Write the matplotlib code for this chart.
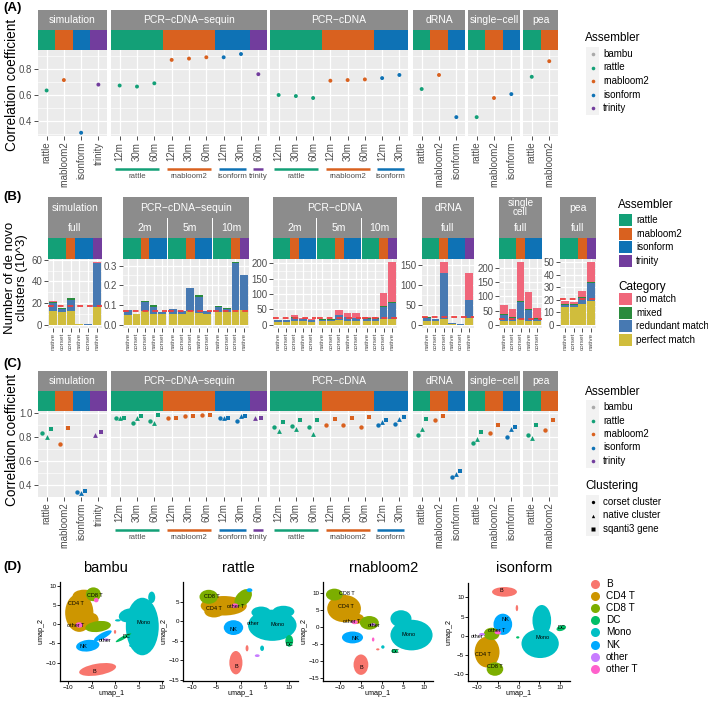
import matplotlib
matplotlib.use('Agg')
import matplotlib.pyplot as plt
from matplotlib.patches import Rectangle, Ellipse
import numpy as np

plt.rcParams['font.family'] = ['Liberation Sans', 'DejaVu Sans']

W, H = 708, 702
fig = plt.figure(figsize=(W / 100, H / 100), dpi=100)
nan = np.nan

# ---------------- colours ----------------
ASSEMBLERS = ['bambu', 'rattle', 'rnabloom2', 'isonform', 'trinity']
ASM_COLORS = ['#A9A9A9', '#13A077', '#D9611F', '#0E72B5', '#723D9D']
ASM_COL = dict(zip(ASSEMBLERS, ASM_COLORS))
CATEGORIES = ['no match', 'mixed', 'redundant match', 'perfect match']
CAT_COLORS = ['#F0677B', '#2A8B3D', '#4779B2', '#D0BD3C']
CELLTYPES = ['B', 'CD4 T', 'CD8 T', 'DC', 'Mono', 'NK', 'other', 'other T']
CELL_COLORS = ['#F8766D', '#CD9600', '#7CAE00', '#00BE67', '#00BFC4', '#00A9FF', '#C77CFF', '#FF61CC']
CELL_COL = dict(zip(CELLTYPES, CELL_COLORS))

# ---------------- panel A data ----------------
A_facets = ['simulation', 'PCR\u2212cDNA\u2212sequin', 'PCR\u2212cDNA', 'dRNA', 'single\u2212cell', 'pea']
A_sim_asm = ['rattle', 'rnabloom2', 'isonform', 'trinity']
A_sim_val = [0.635, 0.715, 0.31, 0.68]
A_seq_asm = ['rattle'] * 3 + ['rnabloom2'] * 3 + ['isonform'] * 2 + ['trinity']
A_seq_lab = ['12m', '30m', '60m', '12m', '30m', '60m', '12m', '30m', '60m']
A_seq_val = [0.673, 0.665, 0.69, 0.87, 0.88, 0.89, 0.89, 0.915, 0.76]
A_pcr_asm = ['rattle'] * 3 + ['rnabloom2'] * 3 + ['isonform'] * 2
A_pcr_lab = ['12m', '30m', '60m', '12m', '30m', '60m', '12m', '30m']
A_pcr_val = [0.60, 0.592, 0.577, 0.71, 0.715, 0.72, 0.73, 0.754]
A_drna_asm = ['rattle', 'rnabloom2', 'isonform']
A_drna_val = [0.646, 0.754, 0.43]
A_sc_asm = ['rattle', 'rnabloom2', 'isonform']
A_sc_val = [0.43, 0.577, 0.607]
A_pea_asm = ['rattle', 'rnabloom2']
A_pea_val = [0.74, 0.86]

# ---------------- panel C data (corset cluster / native cluster / sqanti3 gene) ----------------
C_sim_corset = [0.835, 0.745, 0.345, nan]
C_sim_native = [0.80, nan, 0.33, 0.815]
C_sim_sqanti = [0.865, 0.875, 0.35, 0.84]
C_seq_corset = [0.961, 0.92, 0.936, 0.961, 0.975, 0.98, 0.961, 0.933, nan]
C_seq_native = [0.961, 0.96, 0.92, nan, nan, nan, 0.961, 0.975, 0.961]
C_seq_sqanti = [0.961, 0.978, 0.98, 0.961, 0.978, 0.982, 0.961, 0.978, 0.958]
C_pcr_corset = [0.886, 0.892, 0.886, 0.897, 0.897, 0.883, 0.90, 0.906]
C_pcr_native = [0.853, 0.867, 0.822, nan, nan, nan, 0.928, 0.947]
C_pcr_sqanti = [0.925, 0.942, 0.94, 0.947, 0.961, 0.964, 0.942, 0.964]
C_drna_corset = [0.817, 0.942, 0.47]
C_drna_native = [0.87, nan, 0.492]
C_drna_sqanti = [0.953, 0.975, 0.514]
C_sc_corset = [0.753, 0.831, 0.797]
C_sc_native = [0.786, nan, 0.867]
C_sc_sqanti = [0.842, 0.903, 0.881]
C_pea_corset = [0.817, 0.856]
C_pea_native = [0.789, nan]
C_pea_sqanti = [0.90, 0.942]

# ---------------- panel B data ----------------
B_sim_asm = ['rattle', 'rattle', 'rnabloom2', 'isonform', 'isonform', 'trinity']
B_sim_meth = ['native', 'corset', 'corset', 'native', 'corset', 'native']
B_sim_perfect = [13, 12, 13.2, 0.4, 0.3, 16]
B_sim_redundant = [7, 2.5, 10, 0.2, 0.1, 40.5]
B_sim_mixed = [1, 1, 1.3, 0, 0, 0.6]
B_sim_nomatch = [0.5, 0.2, 0.3, 0, 0, 0.6]
B_sim_ref = 17.8

B_seq2_asm = ['rattle', 'rattle', 'rnabloom2', 'isonform', 'isonform']
B_seq2_meth = ['native', 'corset', 'corset', 'native', 'corset']
B_seq2_perfect = [0.052, 0.055, 0.07, 0.056, 0.056]
B_seq2_redundant = [0.021, 0.001, 0.048, 0.036, 0.009]
B_seq2_mixed = [0.002, 0.0, 0.002, 0.007, 0.001]
B_seq2_nomatch = [0, 0, 0, 0, 0]
B_seq5_asm = ['rattle', 'rattle', 'rnabloom2', 'isonform', 'isonform']
B_seq5_meth = ['native', 'corset', 'corset', 'native', 'corset']
B_seq5_perfect = [0.056, 0.056, 0.071, 0.06, 0.056]
B_seq5_redundant = [0.023, 0.014, 0.113, 0.083, 0.013]
B_seq5_mixed = [0.003, 0.001, 0.002, 0.007, 0.001]
B_seq5_nomatch = [0, 0, 0, 0, 0]
B_seq10_asm = ['rattle', 'rattle', 'rnabloom2', 'trinity']
B_seq10_meth = ['native', 'corset', 'corset', 'native']
B_seq10_perfect = [0.066, 0.066, 0.073, 0.075]
B_seq10_redundant = [0.022, 0.014, 0.242, 0.175]
B_seq10_mixed = [0.006, 0.003, 0.002, 0.001]
B_seq10_nomatch = [0, 0, 0, 0]
B_seq_ref = 0.071

B_pcr2_asm = ['rattle', 'rattle', 'rnabloom2', 'isonform', 'isonform']
B_pcr2_meth = ['native', 'corset', 'corset', 'native', 'corset']
B_pcr2_perfect = [10, 10, 13, 11, 10]
B_pcr2_redundant = [5, 4.5, 10, 7, 6]
B_pcr2_mixed = [0.5, 0.5, 1, 1, 0.5]
B_pcr2_nomatch = [1, 0.5, 9, 3, 3.5]
B_pcr5_asm = ['rattle', 'rattle', 'rnabloom2', 'isonform', 'isonform']
B_pcr5_meth = ['native', 'corset', 'corset', 'native', 'corset']
B_pcr5_perfect = [11, 11, 15, 13, 12]
B_pcr5_redundant = [6, 6, 17, 11, 10]
B_pcr5_mixed = [0.5, 0.5, 1, 1, 1]
B_pcr5_nomatch = [2.5, 2.5, 14, 14, 14]
B_pcr10_asm = ['rattle', 'rattle', 'rnabloom2', 'trinity']
B_pcr10_meth = ['native', 'corset', 'corset', 'native']
B_pcr10_perfect = [12, 12, 20, 20]
B_pcr10_redundant = [8, 8, 38, 52]
B_pcr10_mixed = [1, 1, 2, 2]
B_pcr10_nomatch = [3, 3, 43, 130]
B_pcr_ref = 22

B_drna_asm = ['rattle', 'rattle', 'rnabloom2', 'isonform', 'isonform', 'trinity']
B_drna_meth = ['native', 'corset', 'corset', 'native', 'corset', 'native']
B_drna_perfect = [10, 9, 15, 1, 0.5, 17]
B_drna_redundant = [8, 5, 113, 3, 0.5, 45]
B_drna_mixed = [1, 1, 1, 0.3, 0, 1]
B_drna_nomatch = [0, 0, 27, 0.5, 0.2, 66]
B_drna_ref = 20

B_sc_asm = ['rattle', 'rattle', 'rnabloom2', 'isonform', 'isonform']
B_sc_meth = ['native', 'corset', 'corset', 'native', 'corset']
B_sc_perfect = [15, 12, 19, 15, 12]
B_sc_redundant = [18, 13, 61, 38, 10]
B_sc_mixed = [5, 1, 4, 3, 2]
B_sc_nomatch = [33, 30, 136, 58, 35]
B_sc_ref = 21

B_pea_asm = ['rattle', 'rattle', 'rnabloom2', 'trinity']
B_pea_meth = ['native', 'corset', 'corset', 'native']
B_pea_perfect = [14, 14, 16.5, 19]
B_pea_redundant = [1.5, 1.5, 5, 14.5]
B_pea_mixed = [1, 1, 0.8, 1]
B_pea_nomatch = [2.5, 1.5, 5, 15.5]
B_pea_ref = 20.7

# ---------------- panel D data: cluster blobs (celltype, x, y, width, height, angle) ----------------
UMAP_titles = ['bambu', 'rattle', 'rnabloom2', 'isonform']
bambu_blobs = [
    ('CD4 T', -7.6, 3.0, 6.0, 10.0, 0), ('CD4 T', -6.6, 7.4, 4.8, 3.2, 0), ('CD4 T', -5.0, 1.2, 3.0, 3.5, 0),
    ('CD8 T', -4.6, 7.8, 3.2, 3.6, 0), ('CD8 T', -3.6, -0.6, 5.5, 2.8, 10),
    ('other T', -7.6, -0.2, 1.6, 1.4, 0), ('other T', -4.0, 6.3, 1.0, 1.2, 0),
    ('NK', -5.8, -5.6, 5.0, 3.0, 10), ('NK', -2.6, -3.0, 4.5, 1.4, 35), ('other', -1.9, -4.0, 1.2, 0.6, 0),
    ('Mono', 5.8, -0.6, 7.0, 15.0, 0), ('Mono', 3.0, 2.3, 4.5, 3.5, 20), ('Mono', 7.8, 7.0, 1.5, 3.0, 0),
    ('Mono', 3.8, -5.6, 1.6, 0.8, 0), ('Mono', 0.6, 1.0, 1.2, 0.6, 0),
    ('DC', 1.8, -3.5, 4.0, 0.8, 35), ('B', -3.7, -11.8, 8.0, 3.0, 12), ('B', 0.0, -2.0, 0.5, 1.0, 0),
]
bambu_labels = [('CD8 T', -4.3, 7.5), ('CD4 T', -8.3, 5.4), ('other T', -8.3, -0.3), ('other', -2.2, -4.2),
                ('NK', -6.7, -5.8), ('DC', 2.4, -3.2), ('Mono', 6.0, 0.5), ('B', -4.5, -12.3)]
rattle_blobs = [
    ('CD4 T', -3.5, 4.0, 9.5, 5.0, 0), ('CD4 T', -5.5, 2.5, 4.0, 3.0, 0),
    ('CD8 T', -6.6, 6.3, 3.8, 3.6, 0), ('CD8 T', 0.5, 6.0, 3.0, 5.0, -30),
    ('other T', -1.2, 4.0, 1.4, 1.2, 0), ('NK', 1.8, 8.0, 1.2, 1.0, 0),
    ('NK', -1.5, -1.6, 4.0, 3.8, 0), ('other', 2.4, -0.3, 1.0, 0.8, 0),
    ('Mono', 6.5, -1.0, 10.0, 8.0, 0), ('Mono', 4.2, 2.3, 4.0, 3.0, 0), ('Mono', 8.8, 2.5, 4.5, 3.0, 0),
    ('DC', 10.0, -5.0, 1.6, 3.0, 0), ('B', -1.0, -10.6, 2.7, 6.0, 0),
    ('B', 1.3, -6.9, 0.6, 1.6, 0), ('Mono', 4.4, -6.9, 0.8, 1.4, 0), ('other', 3.4, -8.8, 1.0, 0.7, 0),
]
rattle_labels = [('CD8 T', -6.0, 6.3), ('CD4 T', -5.6, 3.2), ('other T', -1.0, 3.9), ('NK', -1.5, -2.0),
                 ('other', 2.6, -0.6), ('Mono', 7.5, -0.8), ('DC', 10.0, -5.9), ('B', -0.9, -11.7)]
rnabloom2_blobs = [
    ('CD4 T', -9.0, 5.5, 8.0, 8.0, 0), ('CD4 T', -6.0, 2.5, 3.5, 3.0, 0),
    ('CD8 T', -11.3, 9.6, 4.0, 3.5, 0), ('CD8 T', -3.0, 1.3, 4.5, 4.0, 0),
    ('other T', -6.5, 1.5, 1.5, 1.2, 0), ('other', -2.1, 0.8, 1.2, 0.8, 0),
    ('NK', -7.0, -3.0, 5.0, 3.5, 0),
    ('Mono', 7.0, -2.3, 10.0, 9.0, 0), ('Mono', 4.5, 2.5, 5.0, 5.0, 0),
    ('DC', 3.0, -7.0, 1.6, 1.2, 0), ('B', -5.0, -11.0, 3.5, 6.0, 0),
    ('other T', -2.1, -3.6, 0.6, 1.2, 0), ('Mono', 0.2, -5.8, 0.8, 1.0, 0), ('B', -1.0, -6.5, 0.8, 0.6, 0),
]
rnabloom2_labels = [('CD8 T', -8.3, 9.9), ('CD4 T', -8.6, 6.2), ('other T', -7.2, 1.8), ('other', -1.8, 0.6),
                    ('NK', -6.4, -3.3), ('Mono', 6.2, -2.2), ('DC', 3.1, -7.2), ('B', -4.8, -11.9)]
isonform_blobs = [
    ('B', -3.4, 11.4, 6.0, 2.5, 0), ('B', -0.4, 7.2, 0.6, 1.6, 0),
    ('NK', -3.8, 3.0, 4.5, 5.5, 0),
    ('CD4 T', -7.6, -4.2, 6.0, 8.0, 0), ('CD8 T', -6.5, 0.5, 3.8, 3.2, 0), ('CD8 T', -5.7, -8.6, 4.0, 3.5, 0),
    ('other T', -5.0, 0.9, 1.6, 1.0, 0), ('other', -8.8, 0.4, 1.4, 0.7, 0),
    ('Mono', 5.6, 4.0, 4.5, 8.0, 0), ('Mono', 5.2, -2.0, 9.0, 7.5, 0),
    ('DC', 10.3, 2.0, 2.4, 1.4, 20), ('DC', -0.2, -0.4, 0.8, 0.6, 0),
]
isonform_labels = [('B', -4.2, 11.7), ('NK', -3.1, 4.3), ('other T', -5.2, 1.3), ('other', -9.9, -0.2),
                   ('CD4 T', -8.5, -4.8), ('CD8 T', -5.7, -7.9), ('Mono', 5.8, -0.4), ('DC', 10.4, 2.1)]

# ---------------- helpers ----------------
STRIP = '#8C8C8C'
PANEL = '#EBEBEB'


def add_ax(x0, y0, x1, y1, **kw):
    return fig.add_axes([x0 / W, 1 - y1 / H, (x1 - x0) / W, (y1 - y0) / H], **kw)


def strip(x0, x1, y0, y1, text, fs=7.5):
    a = add_ax(x0, y0, x1, y1)
    a.set_facecolor(STRIP)
    a.set_xticks([]); a.set_yticks([])
    for s in a.spines.values():
        s.set_visible(False)
    a.text(0.5, 0.5, text, color='white', ha='center', va='center', fontsize=fs,
           transform=a.transAxes, linespacing=0.85)
    return a


def color_strip(x0, x1, y0, y1, asm):
    a = add_ax(x0, y0, x1, y1)
    a.set_xlim(0, len(asm)); a.set_ylim(0, 1)
    a.bar(np.arange(len(asm)), 1, width=1.0, align='edge', color=[ASM_COL[k] for k in asm], lw=0)
    a.axis('off')
    return a


def style_panel(ax, show_y=True):
    ax.set_facecolor(PANEL)
    for s in ax.spines.values():
        s.set_visible(False)
    ax.tick_params(axis='both', which='major', colors='#333333', labelcolor='#4D4D4D',
                   length=2.6, width=0.6, labelsize=7, pad=1.5)
    ax.tick_params(axis='both', which='minor', length=0)
    ax.grid(True, which='major', color='white', lw=0.9)
    ax.grid(True, which='minor', axis='y', color='white', lw=0.45)
    ax.set_axisbelow(True)
    if not show_y:
        ax.tick_params(axis='y', which='major', length=0, labelleft=False)


ov = fig.add_axes([0, 0, 1, 1], zorder=10)
ov.set_xlim(0, W); ov.set_ylim(H, 0); ov.axis('off')

A_xr = [(38, 107), (111, 267), (270, 408), (413, 465), (468, 520), (523, 558)]
A_asm = [A_sim_asm, A_seq_asm, A_pcr_asm, A_drna_asm, A_sc_asm, A_pea_asm]
A_lab = [A_sim_asm, A_seq_lab, A_pcr_lab, A_drna_asm, A_sc_asm, A_pea_asm]
A_vals = [A_sim_val, A_seq_val, A_pcr_val, A_drna_val, A_sc_val, A_pea_val]
A_grouped = [False, True, True, False, False, False]


def group_lines(x0, x1, asm, yline, ytext):
    n = len(asm)
    u = (x1 - x0) / n
    i = 0
    while i < n:
        j = i
        while j + 1 < n and asm[j + 1] == asm[i]:
            j += 1
        xa, xb = x0 + (i + 0.22) * u, x0 + (j + 0.78) * u
        ov.plot([xa, xb], [yline, yline], color=ASM_COL[asm[i]], lw=1.8, solid_capstyle='butt')
        ov.text((xa + xb) / 2, ytext, asm[i], ha='center', va='top', fontsize=5.6, color='#4D4D4D')
        i = j + 1


# ---------------- Panel A ----------------
for k, name in enumerate(A_facets):
    x0, x1 = A_xr[k]
    asm = A_asm[k]
    n = len(asm)
    strip(x0, x1, 10, 30, name)
    color_strip(x0, x1, 30, 50, asm)
    ax = add_ax(x0, 50, x1, 136)
    pos = np.arange(n) + 0.5
    ax.scatter(pos, A_vals[k], c=[ASM_COL[a] for a in asm], s=8, lw=0, zorder=3)
    ax.set_xlim(0, n); ax.set_ylim(0.285, 0.946)
    ax.set_yticks([0.4, 0.6, 0.8]); ax.set_yticks([0.3, 0.5, 0.7, 0.9], minor=True)
    ax.set_xticks(pos)
    ax.set_xticklabels(A_lab[k], rotation=90, fontsize=6.5 if not A_grouped[k] else 6.8)
    style_panel(ax, show_y=(k == 0))
    if A_grouped[k]:
        group_lines(x0, x1, asm, 169, 173)

# ---------------- Panel C ----------------
C_corset = [C_sim_corset, C_seq_corset, C_pcr_corset, C_drna_corset, C_sc_corset, C_pea_corset]
C_native = [C_sim_native, C_seq_native, C_pcr_native, C_drna_native, C_sc_native, C_pea_native]
C_sqanti = [C_sim_sqanti, C_seq_sqanti, C_pcr_sqanti, C_drna_sqanti, C_sc_sqanti, C_pea_sqanti]
for k, name in enumerate(A_facets):
    x0, x1 = A_xr[k]
    asm = A_asm[k]
    n = len(asm)
    strip(x0, x1, 371, 391, name)
    color_strip(x0, x1, 391, 411, asm)
    ax = add_ax(x0, 411, x1, 497)
    cols = [ASM_COL[a] for a in asm]
    for i in range(n):
        c, nv, sq = C_corset[k][i], C_native[k][i], C_sqanti[k][i]
        if np.isnan(c):
            offs = (None, -0.17, 0.17)
        elif np.isnan(nv):
            offs = (-0.24, None, 0.24)
        else:
            offs = (-0.24, 0.0, 0.24)
        for v, o, mk, ms in [(c, offs[0], 'o', 10), (nv, offs[1], '^', 12), (sq, offs[2], 's', 10)]:
            if o is not None and not np.isnan(v):
                ax.scatter([i + 0.5 + o], [v], marker=mk, s=ms, color=cols[i], lw=0, zorder=3)
    pos = np.arange(n) + 0.5
    ax.set_xlim(0, n); ax.set_ylim(0.30, 1.017)
    ax.set_yticks([0.4, 0.6, 0.8, 1.0]); ax.set_yticks([0.3, 0.5, 0.7, 0.9], minor=True)
    ax.set_xticks(pos)
    ax.set_xticklabels(A_lab[k], rotation=90, fontsize=6.5 if not A_grouped[k] else 6.8)
    style_panel(ax, show_y=(k == 0))
    if A_grouped[k]:
        group_lines(x0, x1, asm, 530, 534)

# ---------------- Panel B ----------------
B_facets = [
    ('simulation', (48, 102), B_sim_ref, [0, 20, 40, 60], '{:g}',
     [('full', B_sim_asm, B_sim_meth, B_sim_perfect, B_sim_redundant, B_sim_mixed, B_sim_nomatch)]),
    ('PCR\u2212cDNA\u2212sequin', (123, 249), B_seq_ref, [0, 0.1, 0.2, 0.3], '{:.1f}',
     [('2m', B_seq2_asm, B_seq2_meth, B_seq2_perfect, B_seq2_redundant, B_seq2_mixed, B_seq2_nomatch),
      ('5m', B_seq5_asm, B_seq5_meth, B_seq5_perfect, B_seq5_redundant, B_seq5_mixed, B_seq5_nomatch),
      ('10m', B_seq10_asm, B_seq10_meth, B_seq10_perfect, B_seq10_redundant, B_seq10_mixed, B_seq10_nomatch)]),
    ('PCR\u2212cDNA', (273, 397), B_pcr_ref, [0, 50, 100, 150, 200], '{:g}',
     [('2m', B_pcr2_asm, B_pcr2_meth, B_pcr2_perfect, B_pcr2_redundant, B_pcr2_mixed, B_pcr2_nomatch),
      ('5m', B_pcr5_asm, B_pcr5_meth, B_pcr5_perfect, B_pcr5_redundant, B_pcr5_mixed, B_pcr5_nomatch),
      ('10m', B_pcr10_asm, B_pcr10_meth, B_pcr10_perfect, B_pcr10_redundant, B_pcr10_mixed, B_pcr10_nomatch)]),
    ('dRNA', (422, 474), B_drna_ref, [0, 50, 100, 150], '{:g}',
     [('full', B_drna_asm, B_drna_meth, B_drna_perfect, B_drna_redundant, B_drna_mixed, B_drna_nomatch)]),
    ('single\ncell', (499, 542), B_sc_ref, [0, 50, 100, 150, 200], '{:g}',
     [('full', B_sc_asm, B_sc_meth, B_sc_perfect, B_sc_redundant, B_sc_mixed, B_sc_nomatch)]),
    ('pea', (560, 596), B_pea_ref, [0, 10, 20, 30, 40, 50], '{:g}',
     [('full', B_pea_asm, B_pea_meth, B_pea_perfect, B_pea_redundant, B_pea_mixed, B_pea_nomatch)]),
]
for name, (fx0, fx1), ref, ticks, fmt, subs in B_facets:
    strip(fx0, fx1, 197, 218, name, fs=7.5 if '\n' not in name else 7.2)
    totals = [np.sum([s[3], s[4], s[5], s[6]], axis=0) for s in subs]
    ymax = max(np.max(t) for t in totals)
    ylo, yhi = -0.05 * ymax, 1.05 * ymax
    weights = [len(s[1]) + 0.2 for s in subs]
    avail = (fx1 - fx0) - (len(subs) - 1) * 1.0
    xs = fx0
    for si, s in enumerate(subs):
        sname, asm, meth, perf, red, mix, nom = s
        w = avail * weights[si] / sum(weights)
        sx0, sx1 = xs, xs + w
        xs = sx1 + 1.0
        strip(sx0, sx1, 218, 238, sname)
        color_strip(sx0, sx1, 238, 259, asm)
        ax = add_ax(sx0, 259, sx1, 328)
        n = len(asm)
        x = np.arange(n)
        bottom = np.zeros(n)
        layers = [perf, red, mix, nom]
        layer_cols = [CAT_COLORS[3], CAT_COLORS[2], CAT_COLORS[1], CAT_COLORS[0]]
        for vals, col in zip(layers, layer_cols):
            ax.bar(x, vals, bottom=bottom, width=0.9, color=col, lw=0, zorder=2)
            bottom = bottom + np.array(vals, dtype=float)
        ax.axhline(ref, color='#EE3E3E', lw=1.3, ls=(0, (3.2, 2.2)), zorder=4)
        ax.set_xlim(-0.6, n - 0.4); ax.set_ylim(ylo, yhi)
        ax.set_yticks(ticks)
        ax.set_yticklabels([fmt.format(t) for t in ticks])
        mids = [(ticks[i] + ticks[i + 1]) / 2 for i in range(len(ticks) - 1)]
        ax.set_yticks(mids, minor=True)
        ax.set_xticks(x)
        ax.set_xticklabels(meth, rotation=90)
        style_panel(ax, show_y=(si == 0))
        ax.tick_params(axis='x', labelsize=4.6, pad=1)

# ---------------- Panel D ----------------
D_axes = [
    ((60, 582, 163, 681), (-11.7, 10.2), (-14.8, 11.0), [-10, -5, 0, 5, 10], [-10, -5, 0, 5, 10], bambu_blobs, bambu_labels, 105),
    ((183, 582, 298, 681), (-11.9, 11.8), (-15.3, 10.1), [-10, -5, 0, 5, 10], [-15, -10, -5, 0, 5], rattle_blobs, rattle_labels, 238),
    ((323, 582, 433, 681), (-14.0, 12.1), (-15.8, 13.3), [-10, -5, 0, 5, 10], [-15, -10, -5, 0, 5, 10], rnabloom2_blobs, rnabloom2_labels, 384),
    ((468, 583, 570, 681), (-12.2, 12.4), (-11.7, 13.7), [-10, -5, 0, 5, 10], [-10, -5, 0, 5, 10], isonform_blobs, isonform_labels, 524),
]
for t, ((x0, y0, x1, y1), xl, yl, xt, yt, blobs, labels, tx) in zip(UMAP_titles, D_axes):
    ax = add_ax(x0, y0, x1, y1)
    for ct, cx, cy, w, h, ang in blobs:
        ax.add_patch(Ellipse((cx, cy), w, h, angle=ang, color=CELL_COL[ct], lw=0))
    for lab, lx, ly in labels:
        ax.text(lx, ly, lab, fontsize=4.0, ha='center', va='center', color='black')
    ax.set_xlim(*xl); ax.set_ylim(*yl)
    ax.set_xticks(xt); ax.set_yticks(yt)
    for s in ['top', 'right']:
        ax.spines[s].set_visible(False)
    for s in ['left', 'bottom']:
        ax.spines[s].set_linewidth(0.9)
    ax.tick_params(labelsize=4.5, length=2, width=0.6, pad=0.8)
    ax.set_xlabel('umap_1', fontsize=5.2, labelpad=0)
    ax.set_ylabel('umap_2', fontsize=5.2, labelpad=0.5)
    ov.text(tx, 568, t, fontsize=10.5, ha='center', va='center')

# ---------------- labels ----------------
ov.text(3, 8, '(A)', fontsize=9.5, fontweight='bold', va='center')
ov.text(3, 197, '(B)', fontsize=9.5, fontweight='bold', va='center')
ov.text(3, 364, '(C)', fontsize=9.5, fontweight='bold', va='center')
ov.text(3, 567, '(D)', fontsize=9.5, fontweight='bold', va='center')
ov.text(12, 85, 'Correlation coefficient', rotation=90, fontsize=9.8, ha='center', va='center')
ov.text(12, 440, 'Correlation coefficient', rotation=90, fontsize=9.8, ha='center', va='center')
ov.text(16, 278, 'Number of de novo\nclusters (10^3)', rotation=90, fontsize=9.5, ha='center', va='center',
        linespacing=1.0)

# ---------------- legends ----------------
def asm_point_legend(x, ytitle, y0):
    ov.text(x, ytitle, 'Assembler', fontsize=8.5, va='center')
    for i, nm in enumerate(ASSEMBLERS):
        yy = y0 + i * 13.5
        ov.add_patch(Rectangle((x + 1, yy - 6.75), 13, 13.5, color='#F2F2F2', lw=0))
        ov.plot([x + 7.5], [yy], marker='o', ms=2.6, color=ASM_COL[nm], mec='none')
        ov.text(x + 18, yy, nm, fontsize=7, va='center')


asm_point_legend(585, 38, 54)
asm_point_legend(585, 392, 407)
ov.text(585, 486, 'Clustering', fontsize=8.5, va='center')
for i, (mk, nm) in enumerate([('o', 'corset cluster'), ('^', 'native cluster'), ('s', 'sqanti3 gene')]):
    yy = 502 + i * 13.5
    ov.add_patch(Rectangle((586, yy - 6.75), 13, 13.5, color='#F2F2F2', lw=0))
    ov.plot([592.5], [yy], marker=mk, ms=2.4, color='black', mec='none')
    ov.text(603, yy, nm, fontsize=7, va='center')

ov.text(618, 205, 'Assembler', fontsize=8.5, va='center')
for i, nm in enumerate(ASSEMBLERS[1:]):
    yy = 220 + i * 13.7
    ov.add_patch(Rectangle((619, yy - 6), 13, 12, color=ASM_COL[nm], lw=0))
    ov.text(636, yy, nm, fontsize=7, va='center')
ov.text(618, 287, 'Category', fontsize=8.5, va='center')
for i, nm in enumerate(CATEGORIES):
    yy = 299 + i * 13.7
    ov.add_patch(Rectangle((619, yy - 6), 13, 12, color=CAT_COLORS[i], lw=0))
    ov.text(636, yy, nm, fontsize=7, va='center')

for i, nm in enumerate(CELLTYPES):
    yy = 584 + i * 12.1
    ov.plot([595], [yy], marker='o', ms=6.5, color=CELL_COL[nm], mec='none')
    ov.text(606, yy, nm, fontsize=7.2, va='center')

fig.savefig('out.png', dpi=100)
